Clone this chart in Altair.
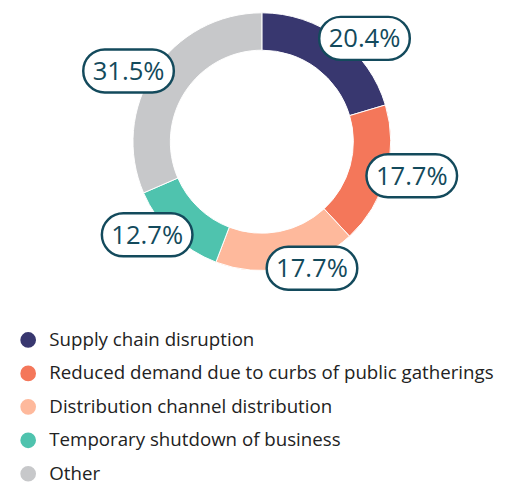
import altair as alt
import pandas as pd

categories = [
    "Supply chain disruption",
    "Reduced demand due to curbs of public gatherings",
    "Distribution channel distribution",
    "Temporary shutdown of business",
    "Other",
]
values = [20.4, 17.7, 17.7, 12.7, 31.5]
labels = ["20.4%", "17.7%", "17.7%", "12.7%", "31.5%"]
colors = ["#38376f", "#f4775a", "#feb99c", "#4fc3ae", "#c7c8ca"]

df = pd.DataFrame({
    "category": categories,
    "value": values,
    "label": labels,
    "idx": list(range(len(categories))),
})

CX, CY = 258, 132
R_OUT, R_IN = 131, 93
R_LAB, DX_LAB = 131, 26
TEAL = "#134a5c"

color = alt.Color(
    "category:N",
    scale=alt.Scale(domain=categories, range=colors),
    sort=categories,
    legend=alt.Legend(
        title=None,
        orient="none",
        legendX=11,
        legendY=324,
        symbolType="circle",
        symbolSize=254,
        symbolStrokeWidth=0,
        labelFont="Open Sans",
        labelFontSize=19,
        labelColor="#222222",
        labelLimit=0,
        labelOffset=12,
        rowPadding=14,
        padding=0,
    ),
)

base = alt.Chart(df)

arcs = base.mark_arc(radius=R_OUT, radius2=R_IN, stroke="white", strokeWidth=1).encode(
    theta=alt.Theta("value:Q", stack=True),
    order=alt.Order("idx:Q"),
    color=color,
    x=alt.value(CX),
    y=alt.value(CY),
)

lab = base.transform_window(
    cum="sum(value)", sort=[alt.SortField("idx")], frame=[None, 0]
).transform_joinaggregate(
    total="sum(value)"
).transform_calculate(
    mid="(datum.cum - datum.value/2) / datum.total * 2 * PI",
).transform_calculate(
    lx=f"{CX} + {R_LAB} * sin(datum.mid) + (sin(datum.mid) >= 0 ? {DX_LAB} : -{DX_LAB})",
    ly=f"{CY} - {R_LAB} * cos(datum.mid)",
)

pill_path = "M -0.52,-0.47 L 0.52,-0.47 A 0.47,0.47 0 0 1 0.52,0.47 L -0.52,0.47 A 0.47,0.47 0 0 1 -0.52,-0.47 Z"

pills = lab.mark_point(
    shape=pill_path, filled=True, fill="white", stroke=TEAL, strokeWidth=2.5,
    size=93 * 93, opacity=1,
).encode(
    x=alt.X("lx:Q", scale=None, axis=None),
    y=alt.Y("ly:Q", scale=None, axis=None),
)

texts = lab.mark_text(
    font="Open Sans", fontSize=26, fontWeight=500, color=TEAL,
    align="center", baseline="middle", dy=1,
).encode(
    x=alt.X("lx:Q", scale=None, axis=None),
    y=alt.Y("ly:Q", scale=None, axis=None),
    text="label:N",
)

chart = alt.layer(arcs, pills, texts).properties(
    width=498, height=476,
    autosize=alt.AutoSizeParams(type="none"),
    padding={"left": 0, "top": 0, "right": 0, "bottom": 0},
).configure_view(stroke=None)

chart.save("out.html", embed_options={"renderer": "svg", "actions": False})
